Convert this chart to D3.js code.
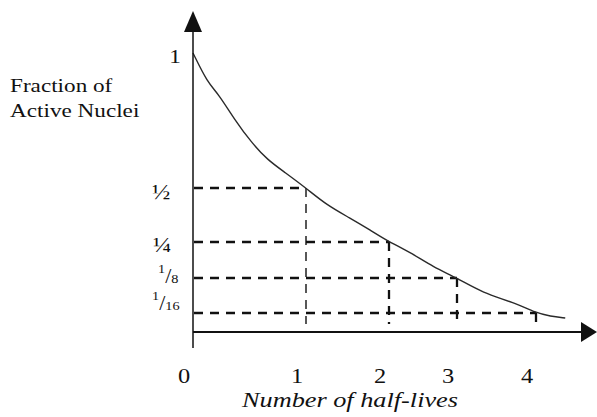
<!DOCTYPE html>
<html>
<head>
<meta charset="utf-8">
<script src="https://cdn.jsdelivr.net/npm/d3@7"></script>
<style>
  html, body { margin: 0; padding: 0; background: #fff; }
  svg { display: block; }
</style>
</head>
<body>
<svg id="chart" width="597" height="417"></svg>
<script>
// Half-life marks on the decay curve
const halfLives = [1, 2, 3, 4];
const fractions = [1 / 2, 1 / 4, 1 / 8, 1 / 16];
// Fraction labels: a single glyph, or [numerator, denominator]
const fractionLabels = [["½"], ["¼"], ["1", "8"], ["1", "16"]];
const xTickValues = [0, 1, 2, 3, 4];
const xTickLabels = ["0", "1", "2", "3", "4"];
const yTopValue = 1;
const yTopLabel = "1";

// Decay curve samples (half-lives elapsed, fraction still active)
const curveHalfLives = [0, 0.13, 0.22, 0.37, 0.52, 0.66, 0.81, 1, 1.25, 1.53, 1.77, 2,
                        2.31, 2.65, 3, 3.33, 3.71, 4, 4.18, 4.37];
const curveFractions = [1, 0.889, 0.852, 0.752, 0.667, 0.604, 0.559, 0.5, 0.421, 0.361, 0.306, 0.25,
                        0.215, 0.163, 0.125, 0.098, 0.082, 0.0625, 0.052, 0.046];

const yTitleLines = ["Fraction of", "Active Nuclei"];
const xTitle = "Number of half-lives";

// ---- layout ----
const FONT = "'Liberation Serif', 'Times New Roman', serif";
const STRETCH = 1.22;           // lettering is drawn slightly wide
const svg = d3.select("#chart");

// The sketch is schematic, not to scale: piecewise-linear scales
const x = d3.scaleLinear()
  .domain([0, 1, 2, 3, 4])
  .range([193, 306, 389, 457, 536]);
const y = d3.scaleLinear()
  .domain([0, 1 / 16, 1 / 8, 1 / 4, 1 / 2, 1])
  .range([332, 313, 278, 242, 188, 53]);

const x0 = x(0), yAxis0 = y(0);
const ink = "#111";

// Dashed guides: horizontal from the axis to the curve, vertical down to the axis
const guides = svg.append("g")
  .attr("stroke", ink)
  .attr("stroke-width", 2.3)
  .attr("stroke-dasharray", "9,7")
  .attr("fill", "none");
fractions.forEach((f, i) => {
  guides.append("line")
    .attr("x1", x0 + 1).attr("x2", x(halfLives[i]))
    .attr("y1", y(f)).attr("y2", y(f));
  guides.append("line")
    .attr("x1", x(halfLives[i])).attr("x2", x(halfLives[i]))
    .attr("y1", y(f)).attr("y2", yAxis0 - 8)
    .attr("stroke-width", i === 0 ? 1.4 : 2.3);
});

// Decay curve
const line = d3.line()
  .x((d, i) => x(curveHalfLives[i]))
  .y(d => y(d))
  .curve(d3.curveBasis);
svg.append("path")
  .attr("d", line(curveFractions))
  .attr("fill", "none")
  .attr("stroke", "#2a2a2a")
  .attr("stroke-width", 1.4);

// Axes with arrowheads
svg.append("line")
  .attr("x1", x0).attr("x2", x0)
  .attr("y1", 30).attr("y2", yAxis0 + 16)
  .attr("stroke", ink).attr("stroke-width", 1.5);
svg.append("path")
  .attr("d", `M${x0},11 L${x0 + 9},32 L${x0 - 9},32 Z`)
  .attr("fill", ink);
svg.append("line")
  .attr("x1", x0).attr("x2", 584)
  .attr("y1", yAxis0).attr("y2", yAxis0)
  .attr("stroke", ink).attr("stroke-width", 2);
svg.append("path")
  .attr("d", `M597,${yAxis0} L581,${yAxis0 - 10} L581,${yAxis0 + 10} Z`)
  .attr("fill", ink);

// Helper: stretched text anchored at (px, py)
function textAt(px, py, anchor, stretch) {
  return svg.append("g")
    .attr("transform", `translate(${px},${py}) scale(${stretch || STRETCH},1)`)
    .append("text")
    .attr("font-family", FONT)
    .attr("fill", ink)
    .attr("text-anchor", anchor || "start");
}

// x tick labels
xTickValues.forEach((v, i) => {
  textAt(x(v) - 9, 383, "middle")
    .attr("font-size", 20)
    .text(xTickLabels[i]);
});

// x title
textAt(x0 + 49, 407, "start")
  .attr("font-size", 20)
  .attr("font-style", "italic")
  .attr("textLength", 216 / STRETCH)
  .attr("lengthAdjust", "spacingAndGlyphs")
  .text(xTitle);

// y title
yTitleLines.forEach((t, i) => {
  textAt(10, 92 + i * 25, "start")
    .attr("font-size", 19)
    .text(t);
});

// y top label
textAt(175, y(yTopValue) + 10, "middle")
  .attr("font-size", 19)
  .text(yTopLabel);

// fraction labels beside the dashed levels
const labelBaselineShift = [11, 10, 5, -3];
const labelLeft = [152, 153, 158, 152];
fractionLabels.forEach((lab, i) => {
  const base = y(fractions[i]) + labelBaselineShift[i];
  if (lab.length === 1) {
    textAt(labelLeft[i], base, "start").attr("font-size", 20).text(lab[0]);
  } else {
    const t = textAt(labelLeft[i], base, "start", 1.1);
    t.append("tspan").attr("font-size", 13).attr("dy", -10).text(lab[0]);
    t.append("tspan").attr("font-size", 20).attr("dy", 10).text("/");
    t.append("tspan").attr("font-size", 13).text(lab[1]);
  }
});
</script>
</body>
</html>
